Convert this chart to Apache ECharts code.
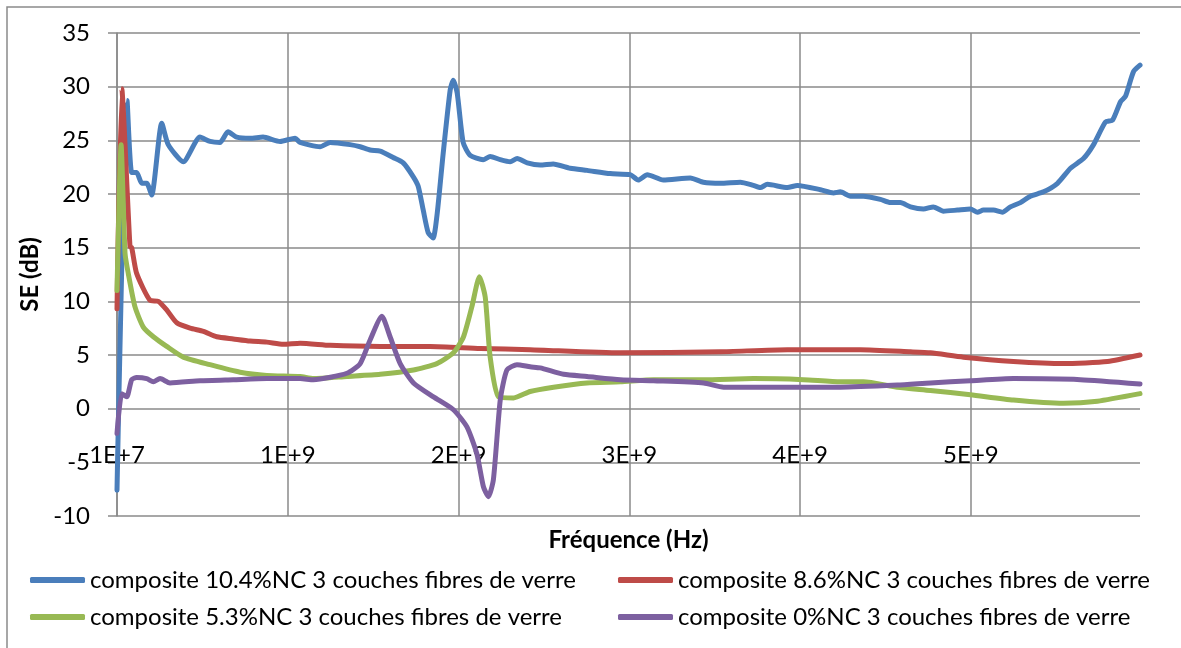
<!DOCTYPE html>
<html>
<head>
<meta charset="utf-8">
<script src="https://cdn.jsdelivr.net/npm/echarts@6/dist/echarts.min.js"></script>
<style>
  html, body { margin: 0; padding: 0; background: #fff; }
  #chart { width: 1181px; height: 648px; }
</style>
</head>
<body>
<div id="chart"></div>
<script>
// frequence en GHz, SE en dB
const seriesNames = [
  'composite 10.4%NC 3 couches fibres de verre',
  'composite 8.6%NC 3 couches fibres de verre',
  'composite 5.3%NC 3 couches fibres de verre',
  'composite 0%NC 3 couches fibres de verre'
];
const seriesColors = ['#4a7ebb', '#be4b48', '#98b954', '#7d60a0'];

const se104 = [
  [0.01, -7.6], [0.069, 28.7], [0.096, 22.0], [0.125, 22.0], [0.155, 21.0], [0.184, 21.0],
  [0.213, 19.9], [0.272, 26.6], [0.31, 24.6], [0.398, 23.0], [0.496, 25.3], [0.555, 24.9],
  [0.613, 24.8], [0.66, 25.8], [0.711, 25.3], [0.79, 25.2], [0.865, 25.3], [0.965, 24.9],
  [1.053, 25.2], [1.082, 24.8], [1.199, 24.4], [1.258, 24.8], [1.375, 24.6], [1.434, 24.4],
  [1.492, 24.1], [1.551, 24.0], [1.627, 23.4], [1.686, 22.9], [1.745, 21.6], [1.774, 20.7],
  [1.803, 18.5], [1.832, 16.4], [1.861, 15.9], [1.885, 18.2], [1.92, 23.8], [1.961, 29.7],
  [1.979, 30.6], [2.002, 29.4], [2.037, 24.8], [2.078, 23.6], [2.154, 23.2], [2.195, 23.5],
  [2.254, 23.2], [2.312, 23.0], [2.353, 23.3], [2.412, 22.9], [2.488, 22.7], [2.564, 22.8],
  [2.664, 22.4], [2.763, 22.2], [2.898, 21.9], [3.015, 21.8], [3.062, 21.3], [3.115, 21.8],
  [3.209, 21.3], [3.367, 21.5], [3.443, 21.1], [3.543, 21.0], [3.66, 21.1], [3.736, 20.8],
  [3.777, 20.6], [3.818, 20.9], [3.935, 20.6], [3.994, 20.8], [4.129, 20.4], [4.205, 20.1],
  [4.245, 20.2], [4.304, 19.8], [4.38, 19.8], [4.48, 19.5], [4.538, 19.2], [4.597, 19.2],
  [4.656, 18.8], [4.732, 18.6], [4.79, 18.8], [4.849, 18.4], [4.931, 18.5], [5.007, 18.6],
  [5.048, 18.3], [5.083, 18.5], [5.142, 18.5], [5.194, 18.3], [5.241, 18.8], [5.3, 19.2],
  [5.358, 19.8], [5.435, 20.2], [5.517, 21.0], [5.593, 22.4], [5.669, 23.3], [5.728, 24.6],
  [5.798, 26.7], [5.84, 26.9], [5.886, 28.6], [5.915, 29.1], [5.962, 31.4], [6.0, 32.0]
];
const se86 = [
  [0.01, 9.3], [0.038, 29.8], [0.086, 15.1], [0.096, 15.0], [0.125, 12.6], [0.203, 10.1],
  [0.252, 10.0], [0.301, 9.2], [0.36, 8.0], [0.438, 7.5], [0.516, 7.2], [0.594, 6.7],
  [0.691, 6.5], [0.789, 6.3], [0.887, 6.2], [0.984, 6.0], [1.082, 6.1], [1.258, 5.9],
  [1.551, 5.8], [1.844, 5.8], [2.137, 5.6], [2.429, 5.5], [2.957, 5.2], [3.543, 5.3],
  [3.935, 5.5], [4.245, 5.5], [4.363, 5.5], [4.656, 5.3], [4.773, 5.2], [4.966, 4.8],
  [5.259, 4.4], [5.552, 4.2], [5.81, 4.4], [6.0, 5.0]
];
const se53 = [
  [0.01, 11.0], [0.034, 24.6], [0.057, 14.5], [0.076, 12.6], [0.115, 9.5], [0.164, 7.6],
  [0.223, 6.7], [0.301, 5.8], [0.398, 4.8], [0.555, 4.1], [0.731, 3.4], [0.887, 3.1],
  [1.082, 3.0], [1.16, 2.8], [1.356, 3.0], [1.551, 3.2], [1.746, 3.6], [1.883, 4.2],
  [1.98, 5.2], [2.039, 6.7], [2.088, 9.5], [2.132, 12.3], [2.166, 10.4], [2.195, 4.8],
  [2.244, 1.1], [2.332, 1.0], [2.429, 1.6], [2.566, 2.0], [2.762, 2.4], [2.957, 2.5],
  [3.152, 2.7], [3.445, 2.7], [3.738, 2.8], [4.03, 2.7], [4.245, 2.5], [4.38, 2.5],
  [4.579, 2.0], [4.773, 1.7], [5.007, 1.3], [5.259, 0.8], [5.552, 0.5], [5.751, 0.7],
  [6.0, 1.4]
];
const se0 = [
  [0.01, -2.3], [0.038, 1.4], [0.067, 1.1], [0.096, 2.7], [0.125, 2.9], [0.184, 2.8],
  [0.223, 2.5], [0.262, 2.8], [0.32, 2.4], [0.496, 2.6], [0.691, 2.7], [0.887, 2.8],
  [1.082, 2.8], [1.16, 2.7], [1.356, 3.3], [1.434, 4.2], [1.492, 6.4], [1.561, 8.6],
  [1.609, 6.7], [1.668, 4.2], [1.746, 2.4], [1.863, 1.1], [1.98, -0.1], [2.059, -1.7],
  [2.117, -4.2], [2.156, -7.3], [2.185, -8.2], [2.214, -6.6], [2.254, 0.8], [2.293, 3.6],
  [2.352, 4.1], [2.429, 3.9], [2.488, 3.8], [2.625, 3.2], [2.762, 3.0], [2.957, 2.7],
  [3.152, 2.6], [3.445, 2.4], [3.562, 2.0], [3.738, 2.0], [4.03, 2.0], [4.245, 2.0],
  [4.579, 2.2], [4.773, 2.4], [5.007, 2.6], [5.259, 2.8], [5.651, 2.7], [6.0, 2.3]
];
const allData = [se104, se86, se53, se0];

const fontFam = 'Lato, "Noto Sans", sans-serif';
const gridColor = '#8a8a8a';

const chart = echarts.init(document.getElementById('chart'));

const legendBase = {
  orient: 'vertical', top: 568, itemGap: 13, padding: 0,
  itemWidth: 55, itemHeight: 6, icon: 'roundRect',
  textStyle: { fontSize: 24, color: '#000', fontFamily: fontFam }
};

const option = {
  backgroundColor: '#fff',
  animation: false,
  textStyle: { fontFamily: fontFam },
  graphic: [{
    type: 'rect', z: -10,
    shape: { x: 7, y: 7, width: 1200, height: 700 },
    style: { fill: 'none', stroke: gridColor, lineWidth: 1.5 }
  }],
  grid: { left: 117, right: 41, top: 33, bottom: 132, outerBoundsMode: 'none' },
  xAxis: {
    type: 'value',
    min: 1e7, max: 6e9, interval: 1e9,
    name: 'Fréquence (Hz)', nameLocation: 'middle', nameGap: 12, nameMoveOverlap: false,
    nameTextStyle: { fontSize: 24, fontWeight: 'bold', color: '#000', fontFamily: fontFam },
    axisLine: { show: false, onZero: false },
    axisTick: { show: false },
    axisLabel: {
      margin: -73, fontSize: 24, color: '#000', showMaxLabel: false,
      formatter: v => v.toExponential(0).toUpperCase()
    },
    splitLine: { show: true, showMaxLine: false, lineStyle: { color: gridColor, width: 1.5 } }
  },
  yAxis: {
    type: 'value',
    min: -10, max: 35, interval: 5,
    name: 'SE (dB)', nameLocation: 'middle', nameGap: 75, nameMoveOverlap: false,
    nameTextStyle: { fontSize: 24, fontWeight: 'bold', color: '#000', fontFamily: fontFam },
    axisLine: { show: true, lineStyle: { color: gridColor, width: 1.5 } },
    axisTick: { show: true, length: 9, lineStyle: { color: gridColor, width: 1.5 } },
    axisLabel: { margin: 27, fontSize: 24, color: '#000' },
    splitLine: { show: true, lineStyle: { color: gridColor, width: 1.5 } }
  },
  legend: [
    Object.assign({}, legendBase, { data: [seriesNames[0], seriesNames[2]], left: 30 }),
    Object.assign({}, legendBase, { data: [seriesNames[1], seriesNames[3]], left: 618 })
  ],
  series: seriesNames.map((name, i) => ({
    name: name,
    type: 'line',
    data: allData[i].map(p => [p[0] * 1e9, p[1]]),
    showSymbol: false,
    symbol: 'none',
    smooth: 0.2,
    color: seriesColors[i],
    lineStyle: { width: 5, color: seriesColors[i], cap: 'round', join: 'round' }
  }))
};

chart.setOption(option);
</script>
</body>
</html>
